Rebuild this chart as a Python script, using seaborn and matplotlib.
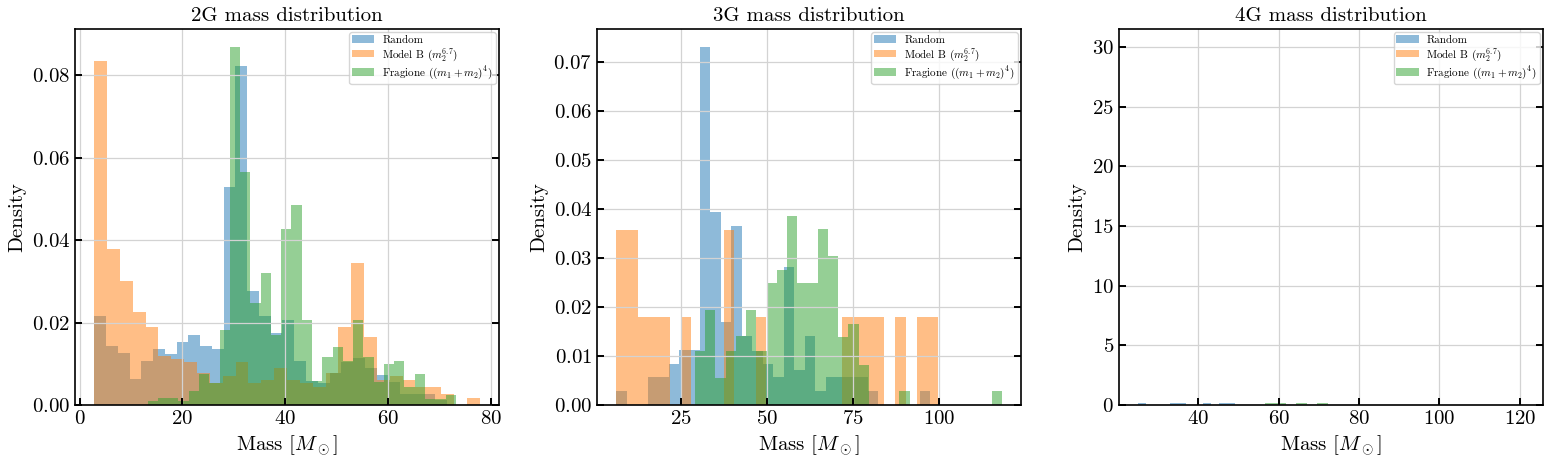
import numpy as np
import seaborn as sns
import matplotlib.pyplot as plt

# Bin ranges (lo, hi) and densities per bin
labels = ['Random', r'Model B ($m_2^{6.7}$)', r'Fragione ($(m_1+m_2)^4$)']
colors = ['#1f77b4', '#ff7f0e', '#2ca02c']
panel_titles = ['2G mass distribution', '3G mass distribution', '4G mass distribution']

# 2G
random_2g_range = (2.84, 71.55)
random_2g = [0.0216, 0.0143, 0.0126, 0.0063, 0.0107, 0.0136, 0.0125, 0.0153, 0.0170, 0.0143,
             0.0136, 0.0529, 0.0822, 0.0276, 0.0216, 0.0175, 0.0206, 0.0107, 0.0058, 0.0053,
             0.0077, 0.0105, 0.0115, 0.0090, 0.0073, 0.0057, 0.0028, 0.0028, 0.0027, 0.0012]
modelb_2g_range = (2.84, 77.87)
modelb_2g = [0.0835, 0.0378, 0.0301, 0.0225, 0.0189, 0.0120, 0.0112, 0.0104, 0.0077, 0.0053,
             0.0071, 0.0105, 0.0054, 0.0061, 0.0089, 0.0061, 0.0054, 0.0044, 0.0077, 0.0189,
             0.0344, 0.0165, 0.0060, 0.0070, 0.0060, 0.0045, 0.0044, 0.0027, 0.0, 0.0017]
fragione_2g_range = (13.23, 73.23)
fragione_2g = [0.0010, 0.0017, 0.0017, 0.0010, 0.0034, 0.0075, 0.0053, 0.0182, 0.0868, 0.0566,
               0.0248, 0.0320, 0.0170, 0.0427, 0.0485, 0.0206, 0.0058, 0.0116, 0.0141, 0.0107,
               0.0206, 0.0116, 0.0057, 0.0099, 0.0107, 0.0043, 0.0075, 0.0016, 0.0016, 0.0024]

# 3G
random_3g_range = (6.18, 97.39)
random_3g = [0.0029, 0.0, 0.0, 0.0057, 0.0057, 0.0085, 0.0112, 0.0112, 0.0731, 0.0394,
             0.0169, 0.0365, 0.0141, 0.0110, 0.0085, 0.0058, 0.0282, 0.0071, 0.0141, 0.0029,
             0.0057, 0.0057, 0.0057, 0.0057, 0.0029, 0.0, 0.0, 0.0, 0.0, 0.0029]
modelb_3g_range = (6.18, 99.61)
modelb_3g = [0.0357, 0.0357, 0.0180, 0.0180, 0.0180, 0.0, 0.0180, 0.0, 0.0, 0.0,
             0.0357, 0.0, 0.0, 0.0180, 0.0, 0.0, 0.0, 0.0, 0.0, 0.0,
             0.0, 0.0180, 0.0180, 0.0180, 0.0180, 0.0, 0.0180, 0.0, 0.0180, 0.0180]
fragione_3g_range = (29.05, 118.1)
fragione_3g = [0.0110, 0.0194, 0.0056, 0.0110, 0.0141, 0.0194, 0.0110, 0.0249, 0.0276, 0.0386,
               0.0249, 0.0249, 0.0359, 0.0305, 0.0139, 0.0165, 0.0083, 0.0, 0.0, 0.0,
               0.0029, 0.0, 0.0, 0.0, 0.0, 0.0, 0.0, 0.0, 0.0, 0.0029]

# 4G
random_4g_range = (25.1, 49.1)
random_4g = [0.15, 0.0, 0.0, 0.0, 0.15, 0.15, 0.0, 0.0, 0.15, 0.0, 0.15, 0.15]
modelb_4g_range = (120.0, 121.0)
modelb_4g = [0.0, 0.0, 0.0, 0.0, 0.0, 0.0, 0.0, 0.0, 0.0, 0.0,
             0.0, 0.0, 0.0, 0.0, 0.0, 30.0, 0.0, 0.0, 0.0, 0.0,
             0.0, 0.0, 0.0, 0.0, 0.0, 0.0, 0.0, 0.0, 0.0, 0.0]
fragione_4g_range = (56.6, 72.2)
fragione_4g = [0.15, 0.15, 0.0, 0.15, 0.0, 0.15]

panels = [
    [(random_2g_range, random_2g), (modelb_2g_range, modelb_2g), (fragione_2g_range, fragione_2g)],
    [(random_3g_range, random_3g), (modelb_3g_range, modelb_3g), (fragione_3g_range, fragione_3g)],
    [(random_4g_range, random_4g), (modelb_4g_range, modelb_4g), (fragione_4g_range, fragione_4g)],
]

plt.rcParams.update({
    'font.family': 'serif',
    'font.serif': ['cmr10', 'DejaVu Serif'],
    'mathtext.fontset': 'cm',
    'axes.formatter.use_mathtext': True,
    'axes.unicode_minus': False,
    'font.size': 15,
    'axes.linewidth': 1.2,
    'xtick.direction': 'in',
    'ytick.direction': 'in',
    'xtick.major.size': 5,
    'ytick.major.size': 5,
    'xtick.major.width': 1.4,
    'ytick.major.width': 1.4,
    'ytick.right': True,
    'grid.color': '#d3d3d3',
    'grid.linewidth': 0.9,
})

fig, axes = plt.subplots(1, 3, figsize=(15.48, 4.62), dpi=100)

for ax, title, series in zip(axes, panel_titles, panels):
    for (rng, dens), lab, col in zip(series, labels, colors):
        edges = np.linspace(rng[0], rng[1], len(dens) + 1)
        centers = (edges[:-1] + edges[1:]) / 2
        sns.histplot(x=centers, weights=dens, bins=list(edges), stat='count',
                     color=col, alpha=0.5, linewidth=0, label=lab, ax=ax)
    ax.set_title(title, fontsize=15)
    ax.set_xlabel(r'Mass $[M_\odot]$', fontsize=15)
    ax.set_ylabel('Density', fontsize=15)
    ax.tick_params(labelsize=15, right=True, top=False)
    ax.grid(True)
    ax.legend(loc='upper right', fontsize=8, framealpha=0.8, edgecolor='#cccccc',
              borderpad=0.25, labelspacing=0.1, handlelength=2.0, handletextpad=0.7,
              borderaxespad=0.3)

plt.subplots_adjust(left=0.0484, right=0.9968, top=0.937, bottom=0.123, wspace=0.231)
plt.savefig('out.png', dpi=100)
